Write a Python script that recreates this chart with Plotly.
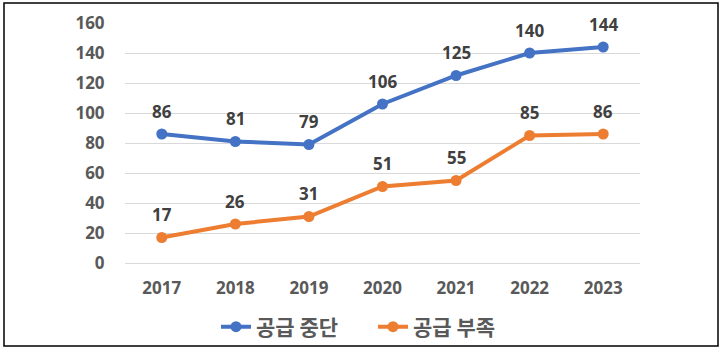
import plotly.graph_objects as go

years = ["2017", "2018", "2019", "2020", "2021", "2022", "2023"]
supply_stop = [86, 81, 79, 106, 125, 140, 144]
supply_short = [17, 26, 31, 51, 55, 85, 86]
series_names = ["공급 중단", "공급 부족"]
colors = ["#4472C4", "#ED7D31"]

W, H = 723, 350
L, R, T, B = 125, 83, 23, 87
pw, ph = W - L - R, H - T - B

fig = go.Figure()
for name, vals, c in zip(series_names, [supply_stop, supply_short], colors):
    fig.add_trace(go.Scatter(
        x=years, y=vals, name=name, mode="lines+markers",
        line=dict(color=c, width=4), marker=dict(color=c, size=11),
    ))
    for i, yv in enumerate(vals):
        fig.add_annotation(x=i, y=yv, xref="x", yref="y", text=str(yv), showarrow=False,
                           yshift=23,
                           font=dict(family="Noto Sans", size=17, color="#404040"))

fig.add_shape(type="rect", xref="paper", yref="paper",
              x0=(4 - L) / pw, x1=(718 - L) / pw,
              y0=(H - B - 346) / ph, y1=(H - B - 3) / ph,
              line=dict(color="#000000", width=1.5), fillcolor="rgba(0,0,0,0)")

tickfont = dict(family="Noto Sans", size=17, color="#595959", weight="bold")
fig.update_layout(
    width=W, height=H, margin=dict(l=L, r=R, t=T, b=B, autoexpand=False),
    paper_bgcolor="white", plot_bgcolor="white",
    showlegend=True,
    legend=dict(orientation="h", xref="container", x=216 / W, xanchor="left",
                yref="container", y=1 - 327 / H, yanchor="middle",
                bgcolor="rgba(0,0,0,0)", entrywidth=112, entrywidthmode="pixels",
                font=dict(family="Noto Sans CJK KR", size=21, color="#595959", weight="bold"),
                itemwidth=30),
    xaxis=dict(type="category", range=[-0.5, 6.5], showgrid=False, zeroline=False,
               showline=False, ticks="outside", ticklen=10, tickcolor="rgba(0,0,0,0)",
               tickfont=tickfont),
    yaxis=dict(range=[0, 160], dtick=20, showgrid=True, gridcolor="#D9D9D9", gridwidth=1,
               zeroline=True, zerolinecolor="#D9D9D9", zerolinewidth=1, showline=False,
               ticks="outside", ticklen=16, tickcolor="rgba(0,0,0,0)", tickfont=tickfont),
)
fig.update_annotations(font_weight="bold")
fig.write_html("out.html")
